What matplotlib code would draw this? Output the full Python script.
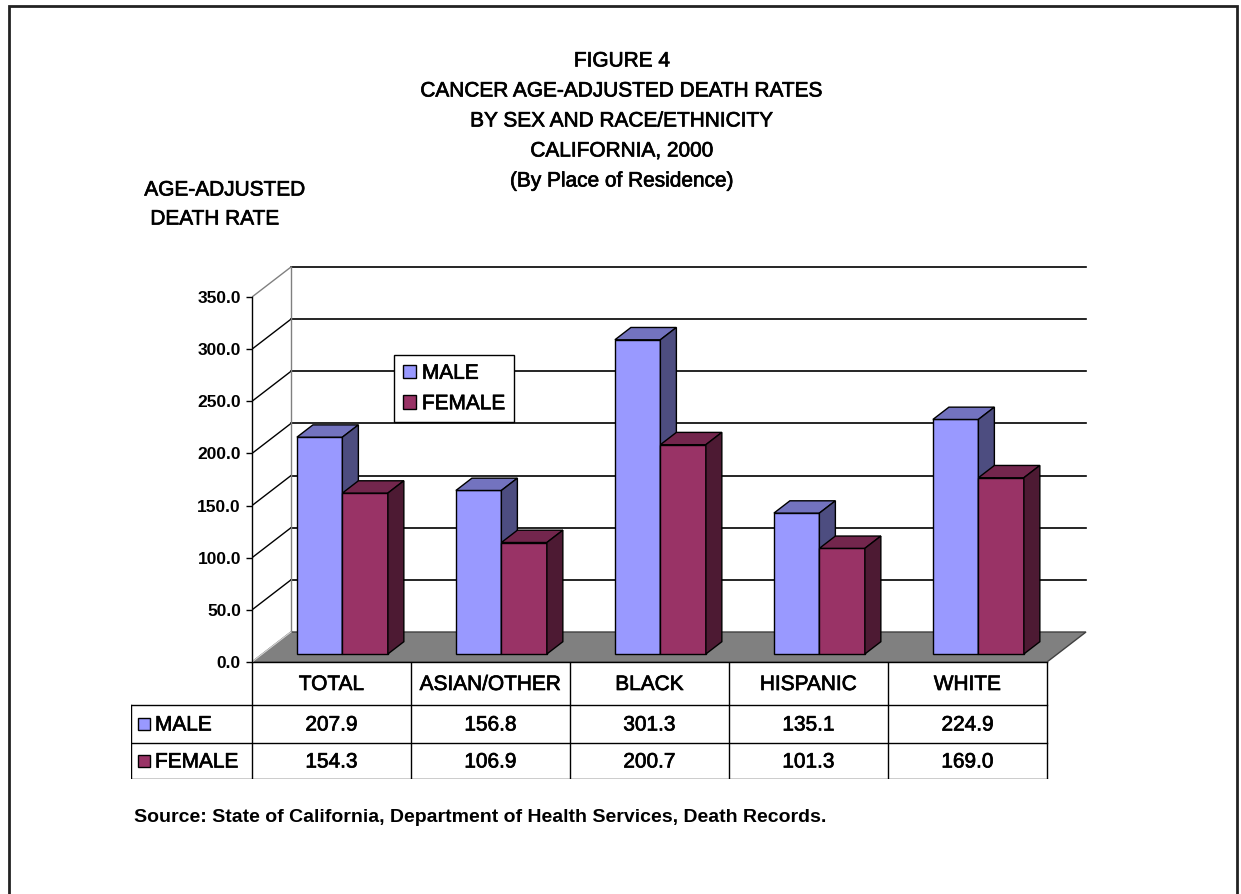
import matplotlib
matplotlib.use("Agg")
import matplotlib.pyplot as plt
import matplotlib.patheffects as pe
from matplotlib.patches import Polygon, Rectangle, Patch

plt.rcParams["font.family"] = ["Liberation Sans", "DejaVu Sans"]

categories = ["TOTAL", "ASIAN/OTHER", "BLACK", "HISPANIC", "WHITE"]
male = [207.9, 156.8, 301.3, 135.1, 224.9]
female = [154.3, 106.9, 200.7, 101.3, 169.0]
series_names = ["MALE", "FEMALE"]
yticks = [0, 50, 100, 150, 200, 250, 300, 350]
title_lines = ["FIGURE 4", "CANCER AGE-ADJUSTED DEATH RATES",
               "BY SEX AND RACE/ETHNICITY", "CALIFORNIA, 2000",
               "(By Place of Residence)"]
source = "Source: State of California, Department of Health Services, Death Records."

W, H = 1241, 894
CAT_PX = 159.0          # pixels per category
VAL_PX = 365.0 / 350.0  # pixels per value unit
DX = 39 / CAT_PX        # depth vector in data units
DY = 30 / VAL_PX
Z0, Z1 = 0.267, 0.677   # bar depth range
BW = 0.286              # bar width

colors = {
    "MALE": ("#9999FF", "#7373BF", "#4D4D80"),
    "FEMALE": ("#993366", "#73264D", "#4D1A33"),
}

# slightly heavier text, like the old bitmap rendering
thick = [pe.withStroke(linewidth=0.5, foreground="#000000")]
TXT = dict(fontsize=15, path_effects=thick)

fig = plt.figure(figsize=(W / 100, H / 100), dpi=100)

# outer border
fig.add_artist(Rectangle((9 / W, -0.02), (1237 - 9) / W, 1.02 - 6 / H,
                         transform=fig.transFigure, fill=False,
                         edgecolor="#222222", lw=2))

ax = fig.add_axes([252 / W, 1 - 662 / H, (1090 - 252) / W, (662 - 260) / H])
ax.set_xlim(0, (1090 - 252) / CAT_PX)
ax.set_ylim(0, (662 - 260) / VAL_PX)
for s in ["top", "right", "bottom"]:
    ax.spines[s].set_visible(False)
ax.spines["left"].set_bounds(0, 350)
ax.spines["left"].set_linewidth(1)
ax.set_xticks([])
ax.set_yticks(yticks)
ax.set_yticklabels([f"{v:.1f}" for v in yticks])
ax.tick_params(axis="y", length=4, width=1, pad=4, labelsize=12.5)
for lab in ax.get_yticklabels():
    lab.set_fontweight("bold")
ax.patch.set_alpha(0)

n = len(categories)

# floor
ax.add_patch(Polygon([(0, 0), (n, 0), (n + DX, DY), (DX, DY)], closed=True,
                     facecolor="#808080", edgecolor="#404040", lw=1, zorder=1))
ax.plot([0, DX], [0, DY], color="#d0d0d0", lw=1, zorder=1.1)

# walls: grid lines
for v in yticks:
    if v == 0:
        continue
    ax.plot([DX, n + DX], [v + DY, v + DY], color="#000000", lw=1.2, zorder=0.5)
    ax.plot([0, DX], [v, v + DY], color="#808080" if v == 350 else "#000000",
            lw=1, zorder=0.5)
ax.plot([DX, DX], [DY, 350 + DY], color="#808080", lw=1, zorder=0.5)

# 3D bars, drawn left to right so later faces cover earlier ones
zo = 2.0
for i in range(n):
    for k, (name, vals) in enumerate(zip(series_names, [male, female])):
        v = vals[i]
        front, top, side = colors[name]
        x0 = i + 0.217 + k * BW + Z0 * DX
        x1 = x0 + BW
        b = Z0 * DY
        d = (Z1 - Z0)
        ax.bar(x0, v, width=BW, bottom=b, align="edge", color=front,
               edgecolor="#000000", lw=1, zorder=zo)
        ax.add_patch(Polygon([(x0, b + v), (x1, b + v), (x1 + d * DX, b + v + d * DY),
                              (x0 + d * DX, b + v + d * DY)], closed=True,
                             facecolor=top, edgecolor="#000000", lw=1, zorder=zo))
        ax.add_patch(Polygon([(x1, b), (x1, b + v), (x1 + d * DX, b + v + d * DY),
                              (x1 + d * DX, b + d * DY)], closed=True,
                             facecolor=side, edgecolor="#000000", lw=1, zorder=zo))
        zo += 0.1

# legend
handles = [Patch(facecolor=colors[s][0], edgecolor="#000000") for s in series_names]
leg = ax.legend(handles, series_names, loc="upper left",
                bbox_to_anchor=(394 / W, 1 - 355 / H), bbox_transform=fig.transFigure,
                fancybox=False, framealpha=1, edgecolor="#000000", fontsize=15,
                handlelength=0.62, handleheight=0.62, handletextpad=0.3,
                labelspacing=0.55, borderpad=0.42, borderaxespad=0)
leg.get_frame().set_linewidth(1)
leg.set_zorder(10)
for t in leg.get_texts():
    t.set_path_effects(thick)

# data table
tax = fig.add_axes([131 / W, 1 - 779 / H, (1090 - 131) / W, 117 / H])
xl = -121 / CAT_PX
tax.set_xlim(xl, (1090 - 252) / CAT_PX)
tax.set_ylim(117, 0)
tax.axis("off")
rows = [0, 43, 81, 117]
tax.plot([0, n], [0, 0], color="#000000", lw=1)
for r in rows[1:]:
    tax.plot([xl, n], [r, r], color="#000000", lw=1)
for c in range(n + 1):
    tax.plot([c, c], [0, 117], color="#000000", lw=1)
tax.plot([xl, xl], [43, 117], color="#000000", lw=1)
for i, cat in enumerate(categories):
    tax.text(i + 0.5, (rows[0] + rows[1]) / 2 + 1, cat, ha="center", va="center", **TXT)
    for r, vals in enumerate([male, female]):
        tax.text(i + 0.5, (rows[r + 1] + rows[r + 2]) / 2 + 1, f"{vals[i]:.1f}",
                 ha="center", va="center", **TXT)
for r, name in enumerate(series_names):
    yc = (rows[r + 1] + rows[r + 2]) / 2
    tax.add_patch(Rectangle(((138 - 252) / CAT_PX, yc - 6), 12 / CAT_PX, 12,
                            facecolor=colors[name][0], edgecolor="#000000", lw=1))
    tax.text((155 - 252) / CAT_PX, yc + 1, name, ha="left", va="center", **TXT)

# titles and labels
for j, line in enumerate(title_lines):
    fig.text(622 / W, 1 - (61 + j * 30) / H, line, ha="center", va="center", **TXT)
fig.text(225 / W, 1 - 190 / H, "AGE-ADJUSTED", ha="center", va="center", **TXT)
fig.text(215 / W, 1 - 219 / H, "DEATH RATE", ha="center", va="center", **TXT)
fig.text(134 / W, 1 - 817 / H, source, ha="left", va="center", fontsize=14,
         fontweight="bold")

fig.savefig("out.png", dpi=100)
